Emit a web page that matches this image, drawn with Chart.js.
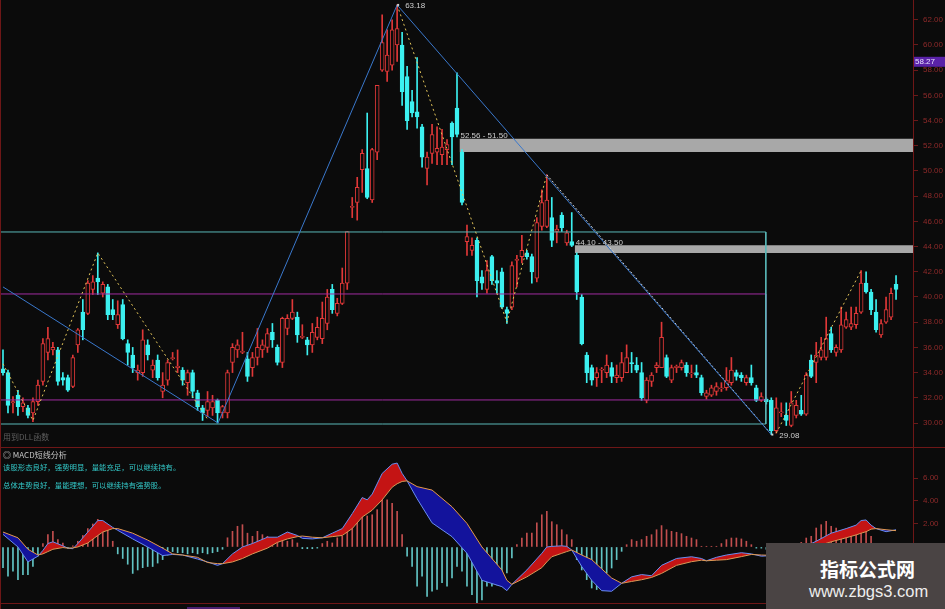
<!DOCTYPE html>
<html>
<head>
  <meta charset="UTF-8" />
  <title>K线 + MACD短线分析</title>
  <script src="https://cdn.jsdelivr.net/npm/chart.js"></script>
  <style>
    html, body { margin: 0; padding: 0; background: #0b0b0b; }
    #wrap {
      position: relative;
      width: 945px;
      height: 609px;
      overflow: hidden;
      background: #0b0b0b;
      font-family: "Noto Sans CJK SC", "Liberation Sans", sans-serif;
    }
    #priceChart { position: absolute; left: 0; top: 0; }
    #macdChart { position: absolute; left: 0; top: 448px; }
    .txt { position: absolute; white-space: nowrap; line-height: 1; }
    .line { position: absolute; background: #6e1717; }
    #mark {
      position: absolute; left: 766px; top: 543px; width: 179px; height: 66px;
      background: #4a4444; color: #fff;
    }
  </style>
</head>
<body>
<div id="wrap">
  <canvas id="priceChart" width="945" height="448"></canvas>
  <canvas id="macdChart" width="945" height="156"></canvas>

  <!-- panel borders -->
  <div class="line" style="left:0;top:447px;width:945px;height:1px;"></div>
  <div class="line" style="left:0;top:603px;width:945px;height:1px;"></div>
  <div class="line" style="left:0;top:0;width:1px;height:609px;"></div>
  <div style="position:absolute;left:187px;top:607px;width:53px;height:2px;background:#4a2070;"></div>

  <div class="txt" style="left:3px;top:433px;font-size:8px;color:#5e5e5e;">用到DLL函数</div>
  <div class="txt" style="left:3px;top:451px;font-size:8px;color:#c4c4c4;">◎ MACD短线分析</div>
  <div class="txt" style="left:3px;top:463px;font-size:7.4px;color:#33c9c9;">该股形态良好，强势明显，量能充足，可以继续持有。</div>
  <div class="txt" style="left:3px;top:481px;font-size:7.4px;color:#33c9c9;">总体走势良好，量能理想，可以继续持有强势股。</div>

  <div id="mark">
    <div class="txt" style="left:54px;top:16px;font-size:19px;font-weight:bold;">指标公式网</div>
    <div class="txt" style="left:43px;top:40px;font-size:16.5px;font-family:'Liberation Sans',sans-serif;color:#eee;">www.zbgs3.com</div>
  </div>
</div>

<script>
// ---- candles (one per trading day) ----
const opens = [
  34.3,34.0,31.6,32.2,31.3,31.2,30.8,31.7,33.3,35.6, 35.8,35.8,33.6,33.6,32.9,36.2,38.8,38.7,40.6,41.5,
  40.3,40.8,39.0,37.8,39.4,36.3,35.4,34.0,34.0,36.2, 34.2,35.0,32.5,33.4,35.1,34.4,34.2,33.2,34.0,32.4,
  31.2,31.0,31.2,31.8,30.8,30.8,34.8,35.8,35.6,35.1, 34.4,35.2,35.8,36.0,37.2,36.0,34.8,37.5,38.3,38.4,
  36.8,36.6,36.2,36.8,36.7,37.9,40.6,38.7,39.5,41.1, 47.1,47.5,50.1,50.2,47.7,51.5,58.0,57.9,58.4,60.0,
  60.0,57.5,55.5,54.7,53.5,50.2,51.4,51.5,51.3,51.7, 53.8,55.0,51.5,44.4,43.7,44.5,41.6,40.6,43.2,41.3,
  42.0,39.0,39.2,42.9,43.2,43.5,43.2,41.5,45.6,45.6, 46.3,45.2,46.5,44.3,44.4,43.3,40.0,35.4,34.4,33.6,
  34.2,34.0,34.4,33.6,33.6,34.0,34.8,34.6,34.0,31.8, 33.3,34.4,34.4,35.2,33.4,34.4,34.4,34.6,33.9,34.0,
  33.6,32.1,32.2,32.5,32.7,32.8,33.2,34.0,33.8,33.2, 33.6,32.8,31.8,31.9,31.8,29.4,30.8,30.6,29.8,30.6,
  31.0,30.7,35.0,34.8,35.2,35.2,37.1,35.6,35.8,37.6, 37.6,37.8,38.8,41.1,40.4,38.8,37.0,38.0,38.4,41.0
];
const highs = [
  35.8,34.2,32.1,32.6,32.0,31.4,32.0,33.4,36.7,37.6, 36.4,36.0,34.0,33.8,35.4,37.5,39.8,41.3,41.7,43.5,
  41.2,41.0,39.8,39.7,39.8,36.6,36.0,34.6,37.4,36.6, 35.0,35.4,34.0,35.0,35.6,35.8,34.4,34.2,34.2,32.6,
  31.4,32.5,32.2,31.9,31.4,34.2,36.3,36.6,37.2,35.6, 35.6,37.5,36.6,37.5,37.9,36.2,38.4,38.6,39.8,38.8,
  37.8,36.8,37.9,38.4,39.6,40.6,41.0,39.9,42.3,45.2, 47.9,49.5,51.7,54.6,51.8,56.8,62.4,61.2,62.0,63.18,
  61.0,58.3,56.4,59.0,53.7,51.5,53.7,53.5,53.3,52.5, 53.9,57.8,51.7,45.7,44.7,44.7,42.1,42.9,43.3,42.1,
  42.3,39.2,42.8,43.3,44.9,43.7,43.4,46.3,48.5,49.7, 47.9,45.7,46.7,45.3,46.7,43.5,40.2,35.6,34.6,34.4,
  34.4,35.4,34.8,34.6,35.6,36.2,35.6,35.2,34.8,33.6, 34.0,34.8,38.0,35.4,34.6,34.6,35.0,34.8,34.6,34.6,
  33.8,32.6,33.0,33.2,33.2,34.4,35.2,34.2,34.0,33.8, 34.6,33.0,32.4,32.0,32.0,32.0,31.6,31.6,32.5,31.8,
  32.2,34.0,35.4,36.4,36.8,38.4,37.6,36.2,39.2,38.8, 39.2,39.2,42.1,42.0,40.6,39.8,38.2,40.0,40.7,41.7
];
const lows = [
  33.8,30.8,30.8,30.6,30.9,30.4,30.1,31.4,33.0,35.0, 35.4,33.0,33.0,32.5,32.8,35.6,36.6,38.6,40.2,40.2,
  40.0,38.2,38.2,37.5,36.6,34.6,34.0,33.4,33.7,35.0, 33.6,33.4,32.0,33.0,35.0,34.0,33.0,32.2,32.0,31.0,
  30.2,30.5,30.6,30.0,30.4,30.4,34.0,35.2,35.5,33.3, 33.7,34.6,35.2,35.6,36.0,34.6,34.4,37.0,38.2,36.4,
  36.7,35.4,35.6,36.6,36.3,37.4,38.7,38.5,39.4,40.6, 46.3,46.1,48.3,47.8,47.5,50.9,57.9,57.1,58.0,58.7,
  55.2,53.3,54.3,53.4,50.3,48.9,50.6,50.5,50.5,50.5, 50.5,52.7,47.3,43.3,43.3,40.0,40.6,40.3,41.0,40.3,
  39.1,37.9,39.0,40.8,42.7,43.0,41.1,41.2,45.3,45.5, 44.0,44.3,45.2,44.1,44.0,39.8,36.2,33.2,33.0,32.9,
  33.2,33.6,33.2,33.2,33.3,34.0,34.0,34.0,31.8,31.6, 32.9,34.0,34.4,33.6,33.2,34.0,34.2,33.7,33.6,33.6,
  32.2,31.9,32.1,32.2,32.5,32.6,33.0,33.4,33.3,33.0, 33.0,31.7,31.7,31.5,29.08,29.2,30.5,29.8,29.7,30.4,
  30.6,30.6,33.6,33.2,35.0,35.0,35.6,35.3,35.6,37.5, 37.4,37.5,38.7,40.3,38.6,37.2,36.8,37.9,38.2,39.8
];
const closes = [
  34.0,31.4,31.7,31.3,31.6,30.6,31.7,33.0,36.3,36.7, 36.0,33.3,33.4,32.6,35.2,37.4,37.4,41.1,41.2,41.2,
  41.0,38.6,38.6,38.6,36.7,35.6,34.4,34.2,36.6,35.4, 34.6,33.6,33.0,34.8,35.2,34.5,33.4,34.0,32.5,31.3,
  30.8,31.7,31.7,30.8,31.3,34.0,36.0,36.2,35.7,33.7, 35.2,36.0,36.2,37.1,36.6,34.8,38.3,38.3,38.8,37.0,
  36.8,36.2,37.2,37.6,38.3,40.0,39.0,39.5,41.1,45.2, 47.2,48.7,51.4,47.9,51.7,56.8,60.2,59.2,61.2,61.3,
  56.3,54.0,54.6,54.3,51.1,51.1,52.9,51.8,51.9,52.1, 52.7,52.9,47.5,44.8,44.1,41.3,41.1,42.1,41.3,41.1,
  39.2,38.7,42.5,43.0,43.7,43.2,42.0,45.9,47.5,47.7, 44.5,45.4,45.5,45.1,44.1,40.4,36.3,34.0,33.4,34.0,
  34.2,34.6,33.7,33.8,34.8,35.2,34.7,34.2,32.0,33.4, 33.8,34.6,36.8,33.7,34.4,34.5,34.8,34.0,33.9,33.8,
  32.4,32.4,32.8,32.9,32.8,33.4,34.2,33.7,33.6,33.6, 33.2,31.8,32.1,31.7,29.4,31.2,30.8,30.2,31.6,31.4,
  30.7,33.8,33.7,35.4,35.8,36.7,35.8,36.0,37.8,38.2, 37.9,38.7,41.1,40.4,39.0,37.4,37.9,39.0,40.3,40.6
];
const priceTicks = [30, 32, 34, 36, 38, 40, 42, 44, 46, 48, 50, 52, 54, 56, 58, 60, 62];
const lastTag = 58.27;

// ---- MACD (DIF / DEA read at these candle positions) ----
const macdIdx = [0,3,5,7,8,9,10,12,13,14,15,17,19,20,22,23,26,29,32,34,36,39,41,43,44,46,48,50,53,55,57,59,
  60,62,64,66,68,70,72,73,74,76,78,79,80,81,83,86,90,93,96,100,101,102,105,108,109,110,112,113,114,116,118,
  120,122,124,126,128,130,132,135,138,140,141,143,145,148,150,152,156,159,161,163,166,169,171,172,173,174,175,177,179];
const difVals = [1.1,0.0,-1.3,-0.8,-0.3,0.3,0.45,0.1,-0.1,-0.15,0.3,1.3,2.3,2.3,1.7,1.45,0.7,0.0,-0.75,-0.65,-0.7,-1.05,-1.3,-1.6,-1.45,-0.6,0.0,0.3,0.85,0.85,1.3,1.0,
  0.75,0.7,0.8,1.2,1.6,2.9,4.3,4.1,4.6,6.4,7.2,7.3,6.4,5.75,4.2,2.1,0.9,-0.55,-2.9,-3.45,-3.8,-3.25,-2.0,-0.55,0.0,0.05,0.1,0.05,-0.26,-1.7,-2.9,
  -3.8,-3.85,-3.16,-2.6,-2.4,-2.5,-1.6,-1.0,-0.85,-1.0,-1.2,-0.9,-0.7,-0.5,-0.6,-0.8,-0.7,-0.2,0.1,0.5,1.2,1.6,1.9,2.3,2.35,1.9,1.6,1.33,1.5];
const deaVals = [1.3,0.8,-0.2,-0.7,-0.6,-0.4,-0.2,-0.05,-0.1,-0.08,0.0,0.35,1.0,1.3,1.6,1.6,1.2,0.6,-0.1,-0.6,-0.7,-0.9,-1.35,-1.45,-1.45,-1.3,-1.0,-0.6,-0.1,0.4,0.7,0.9,
  0.95,0.85,0.8,0.9,1.0,1.6,2.6,2.9,3.2,4.1,5.2,5.5,5.7,5.75,5.25,4.95,3.5,2.05,0.0,-2.0,-2.9,-3.25,-2.6,-1.8,-1.3,-0.85,-0.55,-0.4,-0.26,-0.7,-1.1,
  -1.9,-2.7,-3.16,-3.0,-2.85,-2.65,-2.3,-1.6,-1.28,-1.15,-1.2,-1.15,-1.1,-0.84,-0.65,-0.7,-0.75,-0.4,-0.1,0.05,0.45,0.8,1.05,1.2,1.33,1.55,1.6,1.5,1.42];
const histVals = [
  -1.8,-2.55,-2.1,-2.85,-2.4,-2.4,-1.7,-0.8,0.3,1.07, 1.36,0.64,0.35,-0.1,0.1,0.5,1.0,1.6,2.0,2.4,
  2.2,1.6,0.5,-0.6,-1.0,-1.5,-2.3,-2.0,-1.8,-1.7, -1.7,-1.4,-1.1,-0.7,-0.4,-0.5,-0.5,-0.6,-0.5,-0.6,
  -0.5,-0.6,-0.5,-0.4,-0.2,0.8,1.36,1.8,1.94,1.2, 0.93,1.36,1.07,0.93,0.64,0.64,0.5,0.5,0.64,0.35,
  -0.15,-0.15,-0.15,-0.1,0.3,0.5,0.35,0.8,0.93,1.65, 2.2,3.1,3.7,2.7,2.8,3.25,4.26,4.1,3.8,3.1,
  1.07,-0.8,-1.7,-3.4,-2.55,-4.3,-3.85,-3.7,-3.1,-3.4, -2.7,-1.7,-2.1,-3.4,-4.15,-4.87,-4.6,-3.4,-3.4,-3.3,
  -2.84,-2.26,-0.96,0.2,0.78,1.2,1.2,2.1,2.8,3.1, 2.2,1.94,1.5,1.07,0.64,-1.1,-2.0,-2.84,-3.57,-3.7,
  -2.84,-2.26,-1.83,-1.1,-0.38,0.2,0.64,0.5,0.64,0.93, 1.07,1.5,1.86,1.5,1.36,1.28,1.16,0.93,0.78,0.64,
  0.06,0.06,0.06,0.06,0.3,0.64,0.78,0.78,0.7,0.5, 0.2,-0.1,-0.1,-0.2,-0.2,-0.2,-0.2,-0.1,0.1,0.2,
  0.4,0.78,0.93,1.65,1.94,2.23,1.8,1.65,1.36,1.36, 1.5,1.65,1.36,1.5,0.93,-0.2,-0.3,-0.3,-0.2,-0.1
];
const macdTicks = [-4, -2, 0, 2, 4, 6];

// ---- drawing objects, in candle index / price units ----
const boxFrom = -1, boxTo = 152.9;
const tealBox = [45.16, 29.92];
const purpleBox = [40.24, 31.83];
const zoneFrom = [91.5, 114.6];
const zoneHigh = [52.56, 44.10];
const zoneLow = [51.50, 43.50];
const blueTrend = [[0, 40.8], [43.1, 30.0], [79, 63.18], [154, 29.08]];
const zigA = [[0, 34.7], [6, 30.2], [19, 43.5], [41, 30.3]];
const zigB = [[79, 63.18], [101, 38.0], [109, 49.7]];
const zigWhite = [[109, 49.7], [154, 29.1]];
const zigC = [[155, 29.2], [172, 42.1]];
const noteIdx = [79, 154];
const notePrice = [63.18, 29.08];
const zoneText = ['52.56 - 51.50', '44.10 - 43.50'];

const RED = '#e03838', CYAN = '#3cf0f0', BG = '#0b0b0b';
const X_MIN = -0.6, X_MAX = 182.4;

const pts = arr => arr.map(([x, y]) => ({ x, y }));
const up = opens.map((o, i) => closes[i] >= o);

function lineSet(data, color, dash, order) {
  return { type: 'line', data, borderColor: color, borderWidth: 1, borderDash: dash || [],
           pointRadius: 0, fill: false, order: order };
}
function boxPts(top, bottom) {
  return pts([[boxFrom, top], [boxTo, top], [boxTo, bottom], [boxFrom, bottom]]);
}

const zoneSets = [];
zoneFrom.forEach((f, k) => {
  zoneSets.push({ type: 'line', data: pts([[f, zoneHigh[k]], [X_MAX + 1, zoneHigh[k]]]),
                  borderWidth: 0, pointRadius: 0, fill: false, order: 5 });
  zoneSets.push({ type: 'line', data: pts([[f, zoneLow[k]], [X_MAX + 1, zoneLow[k]]]),
                  borderWidth: 0, pointRadius: 0, fill: '-1', backgroundColor: '#a8a8a8', order: 5 });
});

// labels drawn on top of the price panel
const notesPlugin = {
  id: 'notes',
  afterDraw(chart) {
    const { ctx, scales: { x, y } } = chart;
    ctx.save();
    ctx.font = '8px "Liberation Sans", sans-serif';
    ctx.textBaseline = 'middle';
    ctx.fillStyle = '#cfcfcf';
    noteIdx.forEach((i, k) => {
      const px = x.getPixelForValue(i), py = y.getPixelForValue(notePrice[k]);
      ctx.fillRect(px, py - 1, 2, 2);
      ctx.fillText(notePrice[k].toFixed(2), px + 8, py + 1);
    });
    ctx.textBaseline = 'bottom';
    zoneFrom.forEach((f, k) => {
      ctx.fillText(zoneText[k], x.getPixelForValue(f) + 1, y.getPixelForValue(zoneHigh[k]) + 1);
    });
    // last price tag on the axis
    const ty = y.getPixelForValue(lastTag);
    ctx.fillStyle = '#5a22a8';
    ctx.fillRect(x.right + 1, ty - 10, chart.width - x.right, 10);
    ctx.fillStyle = '#e8e0ff';
    ctx.textBaseline = 'middle';
    ctx.fillText(lastTag.toFixed(2), x.right + 2, ty - 5);
    ctx.restore();
  }
};

const axisY = (min, max, ticks) => ({
  position: 'right', min, max,
  afterFit: s => { s.width = 32; s.paddingTop = 0; s.paddingBottom = 0; },
  afterBuildTicks: s => { s.ticks = ticks.map(v => ({ value: v })); },
  ticks: { color: '#8e2a2a', font: { size: 8, family: 'Liberation Sans' }, padding: 5,
           callback: v => Number(v).toFixed(2) },
  grid: { drawOnChartArea: false, color: '#6a1a1a', tickLength: 5 },
  border: { color: '#6e1717' }
});
const axisX = { type: 'linear', display: false, offset: false, min: X_MIN, max: X_MAX };

new Chart(document.getElementById('priceChart'), {
  type: 'bar',
  data: {
    datasets: [
      lineSet(pts(blueTrend), '#3a78cc', null, 0),
      lineSet(pts(zigA), '#e2c45a', [2, 3], 0),
      lineSet(pts(zigB), '#e2c45a', [2, 3], 0),
      lineSet(pts(zigWhite), '#d8d8d8', [2, 2], 0),
      lineSet(pts(zigC), '#e2c45a', [2, 3], 0),
      lineSet(boxPts(tealBox[0], tealBox[1]), '#5ab8b8', null, 1),
      lineSet(boxPts(purpleBox[0], purpleBox[1]), '#a02ca0', null, 1),
      {
        label: 'body', order: 2, grouped: false, barThickness: 4, minBarLength: 1,
        borderSkipped: false, borderWidth: 1,
        data: opens.map((o, i) => ({ x: i, y: [o, closes[i]] })),
        backgroundColor: up.map(u => u ? BG : CYAN),
        borderColor: up.map(u => u ? RED : CYAN)
      },
      {
        label: 'wick', order: 3, grouped: false, barThickness: 1, borderWidth: 0,
        data: lows.map((l, i) => ({ x: i, y: [l, highs[i]] })),
        backgroundColor: up.map(u => u ? RED : CYAN)
      },
      ...zoneSets
    ]
  },
  options: {
    animation: false, responsive: false, maintainAspectRatio: false,
    layout: { padding: 0 },
    plugins: { legend: { display: false }, tooltip: { enabled: false } },
    scales: { x: axisX, y: axisY(28.016, 63.571, priceTicks) }
  },
  plugins: [notesPlugin]
});

new Chart(document.getElementById('macdChart'), {
  type: 'bar',
  data: {
    datasets: [
      {
        type: 'line', label: 'DEA', order: 0, pointRadius: 0, borderWidth: 1, borderColor: '#e09a52',
        data: macdIdx.map((x, k) => ({ x, y: deaVals[k] })), fill: false
      },
      {
        type: 'line', label: 'DIF', order: 1, pointRadius: 0, borderWidth: 1, borderColor: '#6a8ef0',
        data: macdIdx.map((x, k) => ({ x, y: difVals[k] })),
        fill: { target: '-1', above: '#c41414', below: '#13139c' }
      },
      {
        label: 'MACD', order: 2, grouped: false, barThickness: 1,
        data: histVals.map((v, i) => ({ x: i, y: v })),
        backgroundColor: histVals.map(v => v >= 0 ? '#c24e4e' : '#62c4c4')
      }
    ]
  },
  options: {
    animation: false, responsive: false, maintainAspectRatio: false,
    layout: { padding: 0 },
    plugins: { legend: { display: false }, tooltip: { enabled: false } },
    scales: { x: axisX, y: axisY(-4.96, 8.61, macdTicks) }
  }
});
</script>
</body>
</html>
